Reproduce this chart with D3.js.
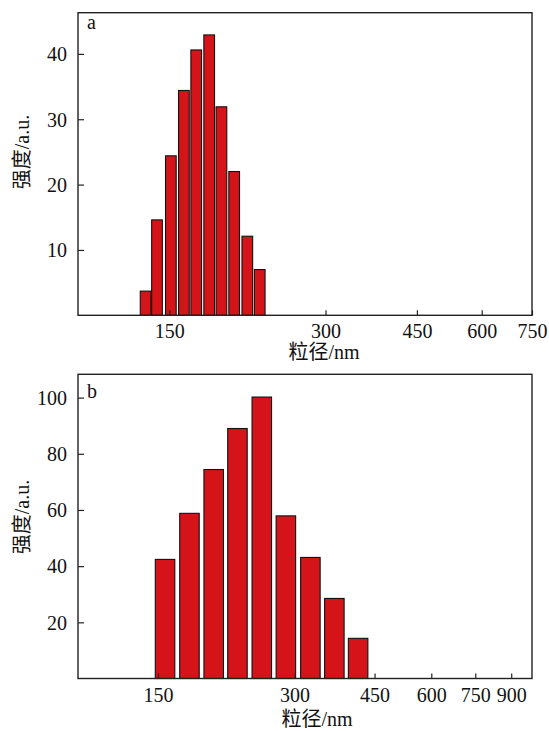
<!DOCTYPE html>
<html><head><meta charset="utf-8">
<script src="https://cdn.jsdelivr.net/npm/d3@7/dist/d3.min.js"></script>
<style>
body{margin:0;background:#fff;}
text{font-family:"Liberation Serif","Times New Roman","Noto Sans CJK SC",serif;fill:#111;}
</style></head>
<body><svg id="c" width="549" height="731"></svg>
<script>
// Panel a data
const sizesA = [135, 142, 151, 160, 169, 179, 189, 200, 212, 224];
const intensA = [3.7, 14.6, 24.4, 34.4, 40.6, 42.9, 31.9, 22.0, 12.1, 7.0];
const xTicksA = [150, 300, 450, 600, 750];
const yTicksA = [10, 20, 30, 40];
// Panel b data
const sizesB = [155.5, 176, 199, 224.5, 254, 287, 325, 367, 414];
const intensB = [42.4, 58.8, 74.4, 89.0, 100.2, 57.9, 43.1, 28.5, 14.3];
const xTicksB = [150, 300, 450, 600, 750, 900];
const yTicksB = [20, 40, 60, 80, 100];

const svg = d3.select("#c");
const FILL = "#d5141a";

function panel(o){
  const g = svg.append("g");
  const x = d3.scaleLog().domain(o.xDomain).range([o.left, o.right]);
  const y = d3.scaleLinear().domain(o.yDomain).range([o.bottom, o.top]);
  // bars
  g.selectAll("rect.bar").data(o.sizes.map((s,i)=>({s, v:o.vals[i]}))).enter()
    .append("rect").attr("class","bar")
    .attr("x", d=>x(d.s/o.r)).attr("width", d=>x(d.s*o.r)-x(d.s/o.r))
    .attr("y", d=>y(d.v)).attr("height", d=>y(0)-y(d.v))
    .attr("fill", FILL).attr("stroke","#111").attr("stroke-width",1.1);
  // x axis (inward ticks)
  const xa = g.append("g").attr("transform",`translate(0,${o.bottom})`)
    .call(d3.axisBottom(x).tickValues(o.xTicks).tickFormat(d3.format("d")).tickSize(-5).tickPadding(0));
  xa.select(".domain").remove();
  xa.selectAll("line").attr("stroke","#222").attr("stroke-width",1.2);
  xa.selectAll("text").attr("y",23).attr("dy",0).style("font-size","20px").style("fill","#111");
  // y axis (inward ticks)
  const ya = g.append("g").attr("transform",`translate(${o.left},0)`)
    .call(d3.axisLeft(y).tickValues(o.yTicks).tickSize(-6).tickPadding(0));
  ya.select(".domain").remove();
  ya.selectAll("line").attr("stroke","#222").attr("stroke-width",1.2);
  ya.selectAll("text").attr("x",-11).attr("dy","0.34em").style("font-size","20px").style("fill","#111");
  // frame
  g.append("rect").attr("x",o.left).attr("y",o.top).attr("width",o.right-o.left).attr("height",o.bottom-o.top)
    .attr("fill","none").attr("stroke","#222").attr("stroke-width",1.4);
  // panel letter
  g.append("text").attr("x",o.left+9).attr("y",o.top+o.letterDy).text(o.letter).style("font-size","20px");
  // x label
  g.append("text").attr("x",o.xLabelX).attr("y",o.bottom+o.xLabelDy).attr("text-anchor","middle")
    .style("font-size","20px").text("粒径/nm");
  // y label
  g.append("text").attr("transform",`translate(${o.yLabelX},${o.yLabelY}) rotate(-90)`)
    .attr("text-anchor","middle").style("font-size","20px").text("强度/a.u.");
}

panel({sizes:sizesA, vals:intensA, xTicks:xTicksA, yTicks:yTicksA,
  xDomain:[100,750], yDomain:[0,46.3], left:78, right:532, top:12.7, bottom:315.3, r:1.024,
  letter:"a", letterDy:16, xLabelX:324, xLabelDy:44, yLabelX:29, yLabelY:152});
panel({sizes:sizesB, vals:intensB, xTicks:xTicksB, yTicks:yTicksB,
  xDomain:[100,1000], yDomain:[0,108.3], left:78, right:532, top:374.3, bottom:678.5, r:1.0507,
  letter:"b", letterDy:24, xLabelX:317, xLabelDy:47, yLabelX:29, yLabelY:517});
</script></body></html>
